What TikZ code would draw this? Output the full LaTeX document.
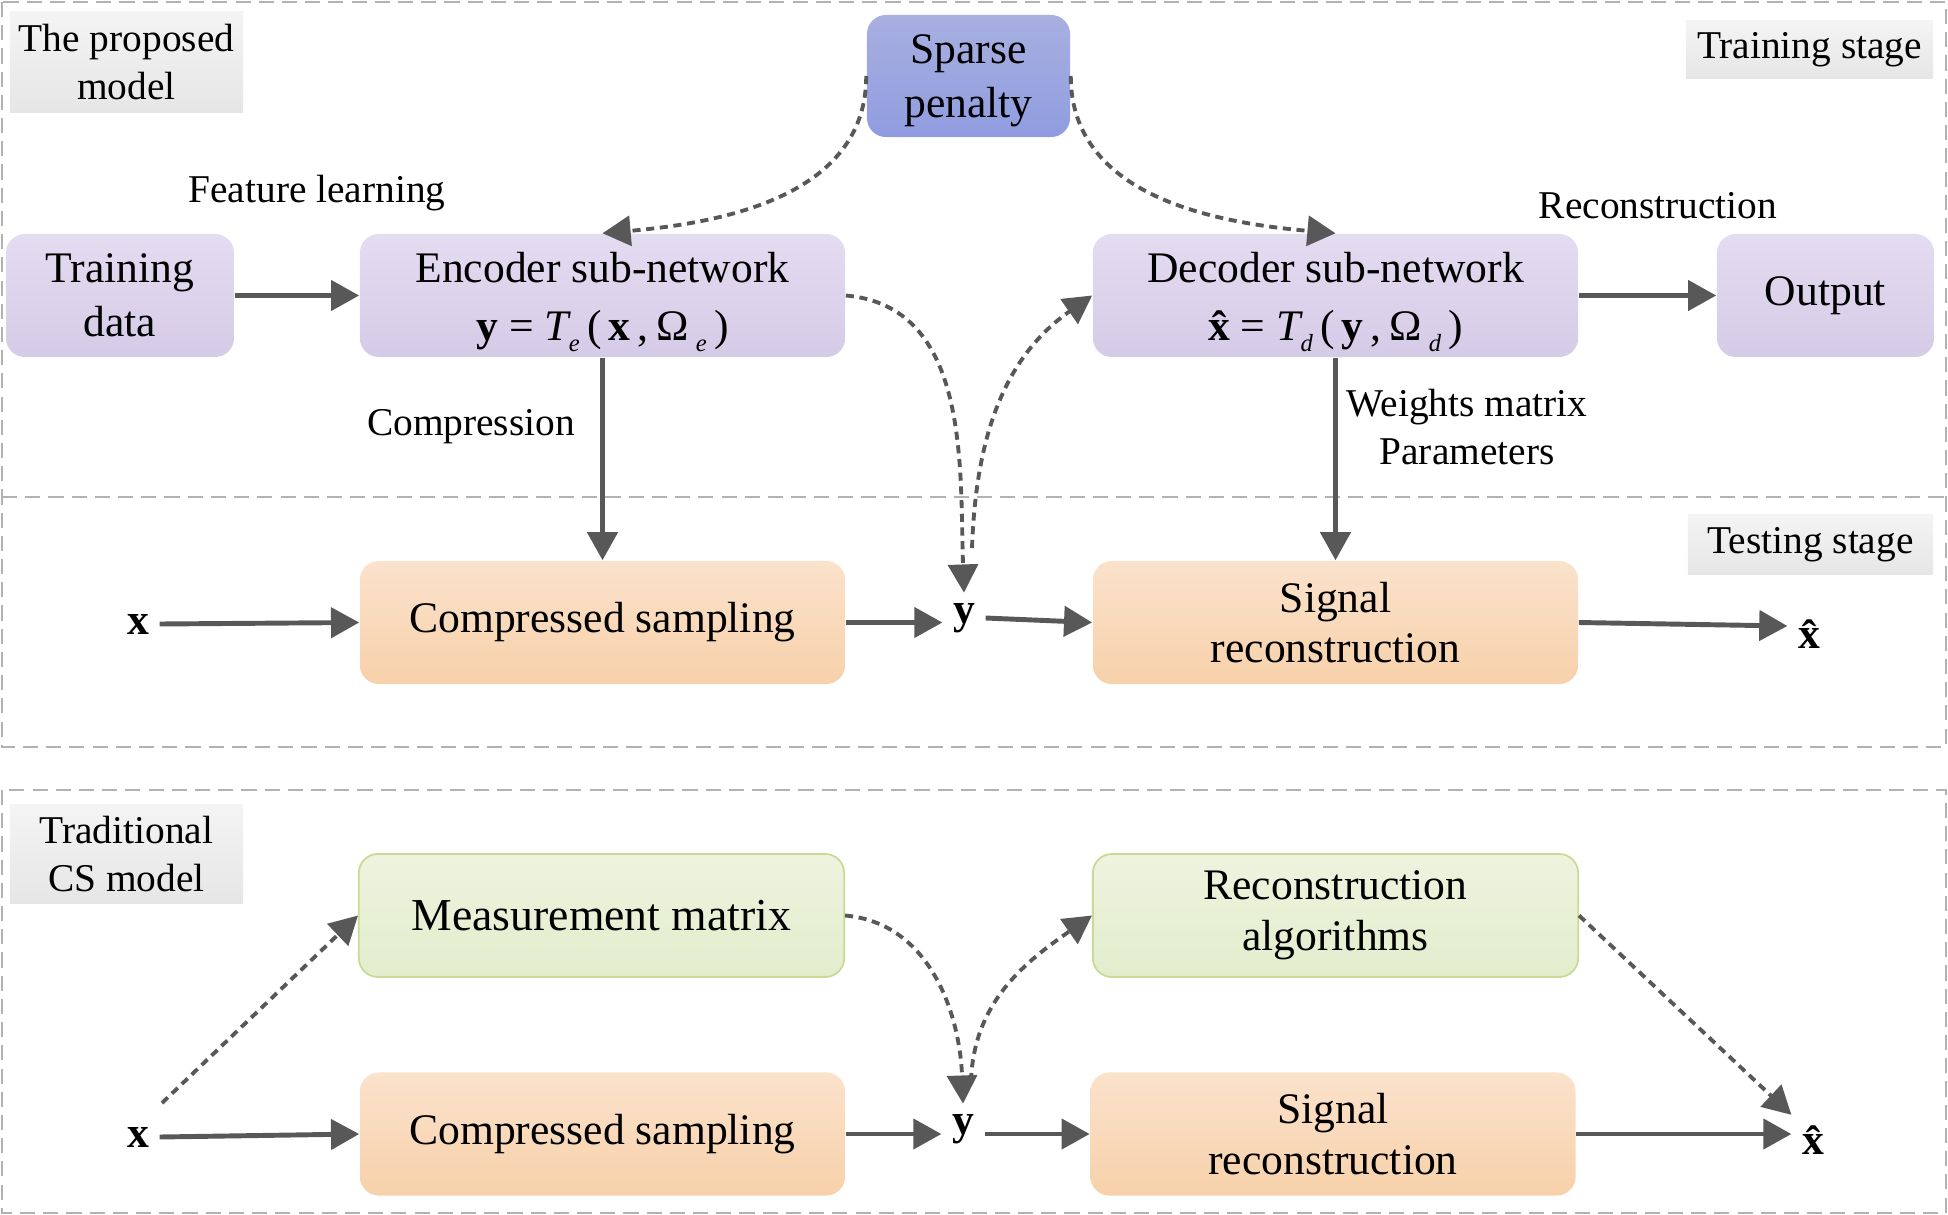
\documentclass[tikz,border=0pt]{standalone}
\usepackage{fontspec}
\setmainfont{Liberation Serif}
\usetikzlibrary{arrows.meta}
\definecolor{arrowgray}{RGB}{88,88,88}
\definecolor{bordergray}{RGB}{178,178,178}
\definecolor{purpT}{RGB}{228,220,241}
\definecolor{purpB}{RGB}{214,203,231}
\definecolor{peachT}{RGB}{251,226,204}
\definecolor{peachB}{RGB}{247,209,170}
\definecolor{blueT}{RGB}{168,176,224}
\definecolor{blueB}{RGB}{144,156,224}
\definecolor{greenT}{RGB}{238,243,222}
\definecolor{greenB}{RGB}{227,237,205}
\definecolor{greenD}{RGB}{200,218,150}
\definecolor{labT}{RGB}{244,244,244}
\definecolor{labB}{RGB}{230,230,230}
\newcommand{\lowsub}[1]{\raisebox{-0.55ex}{\scriptsize\itshape #1}}
\newcommand{\lowered}[2]{\raisebox{-#1}[\height][\depth]{\begin{tabular}{@{}c@{}}#2\end{tabular}}}
\tikzset{
  box/.style={rounded corners=0.19cm, minimum width=4.85cm, minimum height=1.23cm,
    align=center, inner sep=0pt, font=\fontsize{12.4}{14.4}\selectfont},
  purp/.style={box, top color=purpT, bottom color=purpB},
  peach/.style={box, top color=peachT, bottom color=peachB},
  bluebox/.style={box, top color=blueT, bottom color=blueB},
  greenbox/.style={box, top color=greenT, bottom color=greenB, draw=greenD, line width=0.5pt},
  lab/.style={font=\fontsize{11.2}{13.4}\selectfont, align=center, inner sep=0pt},
  stagebox/.style={lab, top color=labT, bottom color=labB},
  sym/.style={font=\fontsize{12.4}{14}\selectfont\bfseries, inner sep=0.1cm},
  arr/.style={draw=arrowgray, line width=1.4pt, -{Triangle[length=8pt,width=8.5pt]}},
  dasharr/.style={draw=arrowgray, line width=1.1pt, dash pattern=on 2.3pt off 1.6pt,
    -{Triangle[length=8pt,width=8.5pt]}},
  frame/.style={draw=bordergray, line width=0.8pt, dash pattern=on 4.3pt off 2.3pt}
}
\begin{document}
\begin{tikzpicture}[x=0.01cm, y=-0.01cm]
\useasboundingbox (0,0) rectangle (1948,1215);
% frames
\draw[frame] (2,2) rectangle (1946,747);
\draw[frame] (2,497) -- (1946,497);
\draw[frame] (2,790) rectangle (1946,1213);
% stage labels
\node[stagebox, minimum width=2.33cm, minimum height=1.0cm] (lp) at (126.5,62) {The proposed\\model};
\node[stagebox, minimum width=2.47cm, minimum height=0.57cm] (ltr) at (1809.5,49.5) {Training stage};
\node[stagebox, minimum width=2.45cm, minimum height=0.59cm] (lte) at (1810.5,544.5) {Testing stage};
\node[stagebox, minimum width=2.33cm, minimum height=0.98cm] (lcs) at (126.5,854) {Traditional\\CS model};
% training nodes
\node[bluebox, minimum width=2.03cm, minimum height=1.22cm] (sp) at (968.5,76) {\lowered{1.3pt}{Sparse\\[1pt]penalty}};
\node[purp, minimum width=2.28cm] (td) at (120,295.5) {Training\\[1pt]data};
\node[purp] (enc) at (602.5,295.5) {\lowered{1.6pt}{Encoder sub-network\\[2pt]{\bfseries y}~=~{\itshape T}\lowsub{e}\,(\,{\bfseries x}\,,\,Ω\,\lowsub{e}\,)}};
\node[purp] (dec) at (1335.5,295.5) {\lowered{1.6pt}{Decoder sub-network\\[2pt]{\bfseries\^{x}}~=~{\itshape T}\lowsub{d}\,(\,{\bfseries y}\,,\,Ω\,\lowsub{d}\,)}};
\node[purp, minimum width=2.17cm] (out) at (1825.5,295.5) {Output};
% testing nodes
\node[peach] (cs1) at (602.5,622.5) {Compressed sampling};
\node[peach] (sr1) at (1335.5,622.5) {Signal\\reconstruction};
\node[sym] (x1) at (138,624) {x};
\node[sym] (y1) at (964,618) {y};
\node[sym] (xh1) at (1809,634) {\^{x}};
% traditional nodes
\node[greenbox, font=\fontsize{13}{15}\selectfont] (mm) at (601.5,915.5) {Measurement matrix};
\node[greenbox] (ra) at (1335.5,915.5) {Reconstruction\\algorithms};
\node[peach] (cs2) at (602.5,1134) {Compressed sampling};
\node[peach] (sr2) at (1333,1134) {Signal\\reconstruction};
\node[sym] (x2) at (138,1137) {x};
\node[sym] (y2) at (963,1129) {y};
\node[sym] (xh2) at (1813,1140) {\^{x}};
% labels
\node[lab] (fl) at (317,193) {Feature learning};
\node[lab] (rl) at (1658,206) {Reconstruction};
\node[lab] (cl) at (471,427) {Compression};
\node[lab] (wl) at (1467,427) {Weights matrix\\Parameters};
% coordinates
\coordinate (y1s) at (972,548);
\coordinate (y2s) at (971,1081);
\coordinate (x2s) at (162,1103);
% solid arrows
\draw[arr] (td.east) -- (enc.west);
\draw[arr] (dec.east) -- (out.west);
\draw[arr] (enc.south) -- (cs1.north);
\draw[arr] (dec.south) -- (sr1.north);
\draw[arr] (x1.east) -- (cs1.west);
\draw[arr] (cs1.east) -- (cs1.east -| y1.west);
\draw[arr] (y1.east) -- (sr1.west);
\draw[arr] (sr1.east) -- ([yshift=0.08cm]xh1.west);
\draw[arr] (x2.east) -- (cs2.west);
\draw[arr] (cs2.east) -- (cs2.east -| y2.west);
\draw[arr] (y2.east |- sr2.west) -- (sr2.west);
\draw[arr] (sr2.east) -- (sr2.east -| xh2.west);
% dashed arrows
\draw[dasharr] (sp.west) to[out=-90,in=5] (enc.north);
\draw[dasharr] (sp.east) to[out=-90,in=175] (dec.north);
\draw[dasharr] (enc.east) to[out=-5,in=92] (y1.north);
\draw[dasharr] (y1s) to[out=88,in=215] (dec.west);
\draw[dasharr] (x2s) -- (mm.west);
\draw[dasharr] (mm.east) to[out=-5,in=92] (y2.north);
\draw[dasharr] (y2s) to[out=88,in=215] (ra.west);
\draw[dasharr] (ra.east) -- (xh2.north west);
\end{tikzpicture}
\end{document}
